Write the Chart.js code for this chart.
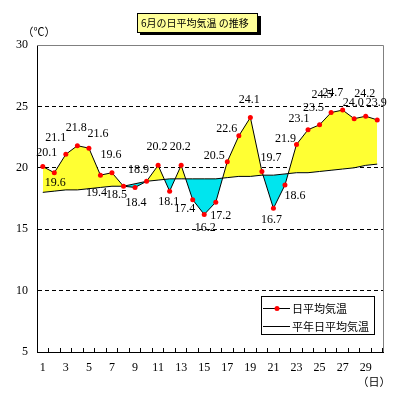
<!DOCTYPE html>
<html>
<head>
<meta charset="utf-8">
<script src="https://cdn.jsdelivr.net/npm/chart.js@4/dist/chart.umd.min.js"></script>
<style>
  html, body { margin: 0; padding: 0; background: #fff; }
  canvas { display: block; }
</style>
</head>
<body>
<canvas id="chart" width="399" height="400"></canvas>
<script>
// ---- Data ----
const days = ['1','2','3','4','5','6','7','8','9','10','11','12','13','14','15',
  '16','17','18','19','20','21','22','23','24','25','26','27','28','29','30'];
const dailyMean = [20.1, 19.6, 21.1, 21.8, 21.6, 19.4, 19.6, 18.5, 18.4, 18.9,
  20.2, 18.1, 20.2, 17.4, 16.2, 17.2, 20.5, 22.6, 24.1, 19.7,
  16.7, 18.6, 21.9, 23.1, 23.5, 24.5, 24.7, 24.0, 24.2, 23.9];
const normalMean = [18.0, 18.1, 18.2, 18.2, 18.3, 18.4, 18.5, 18.5, 18.7, 18.9,
  19.0, 19.1, 19.1, 19.1, 19.1, 19.1, 19.2, 19.3, 19.3, 19.4,
  19.4, 19.5, 19.6, 19.6, 19.7, 19.8, 19.9, 20.0, 20.2, 20.3];
const yTicks = [5, 10, 15, 20, 25, 30];
const seriesNames = ['日平均気温', '平年日平均気温'];
const titleText = '6月の日平均気温 の推移';

// where each value label sits relative to its point (dx, dy in px)
const labelOffsets = [
  [4,-14],[1,10],[-10,-16],[-1,-18],[9,-14],[-4,18],[-1,-18],[-7,9],[1,15],[-8,-11],
  [-1,-19],[-1,11],[-1,-19],[-8,9],[1,13],[5,14],[-13,-6],[-12,-7],[-1,-18],[9,-14],
  [-2,12],[10,11],[-11,-6],[-9,-11],[-6,-17],[-9,-18],[-10,-17],[-1,-16],[-1,-22],[-1,-17]
];

const numFont = "'Liberation Serif', 'DejaVu Serif', serif";
const jpFont = "'Noto Sans CJK JP', sans-serif";

// ---- Extras: borders, title box, legend, value labels ----
const decor = {
  id: 'decor',
  afterDraw(chart) {
    const { ctx, chartArea: a } = chart;
    ctx.save();

    // gray top/right frame
    ctx.strokeStyle = '#808080';
    ctx.lineWidth = 1;
    ctx.beginPath();
    ctx.moveTo(a.left, a.top + 0.5);
    ctx.lineTo(a.right + 0.5, a.top + 0.5);
    ctx.lineTo(a.right + 0.5, a.bottom);
    ctx.stroke();

    // value labels
    const meta = chart.getDatasetMeta(0);
    ctx.fillStyle = '#000';
    ctx.font = '12px ' + numFont;
    ctx.textAlign = 'center';
    ctx.textBaseline = 'middle';
    meta.data.forEach((pt, i) => {
      const [dx, dy] = labelOffsets[i];
      ctx.fillText(dailyMean[i].toFixed(1), pt.x + dx, pt.y + dy);
    });

    // title box with shadow
    ctx.fillStyle = '#000';
    ctx.fillRect(140, 16, 121, 19);
    ctx.fillStyle = '#FFFF99';
    ctx.fillRect(137.5, 13.5, 120, 19);
    ctx.strokeStyle = '#000';
    ctx.strokeRect(137.5, 13.5, 120, 19);
    ctx.fillStyle = '#000';
    ctx.font = '10px ' + jpFont;
    ctx.textAlign = 'left';
    ctx.fillText(titleText, 141, 23.5, 112);

    // axis unit labels
    ctx.font = '11px ' + jpFont;
    ctx.textAlign = 'center';
    ctx.fillText('（℃）', 39, 32);
    ctx.fillText('（日）', 374, 382);

    // legend
    const lx = 261.5, ly = 296.5, lw = 113, lh = 38;
    ctx.fillStyle = '#fff';
    ctx.fillRect(lx, ly, lw, lh);
    ctx.strokeStyle = '#000';
    ctx.strokeRect(lx, ly, lw, lh);
    const rows = [308, 326];
    rows.forEach((ry, i) => {
      ctx.beginPath();
      ctx.moveTo(263, ry + 0.5);
      ctx.lineTo(290, ry + 0.5);
      ctx.stroke();
      if (i === 0) {
        ctx.fillStyle = '#FF0000';
        ctx.beginPath();
        ctx.arc(277, ry + 0.5, 2.5, 0, Math.PI * 2);
        ctx.fill();
      }
      ctx.fillStyle = '#000';
      ctx.font = '11px ' + jpFont;
      ctx.textAlign = 'left';
      ctx.fillText(seriesNames[i], 292, ry + 1);
    });

    ctx.restore();
  }
};

new Chart(document.getElementById('chart'), {
  type: 'line',
  data: {
    labels: days,
    datasets: [
      {
        label: seriesNames[0],
        data: dailyMean,
        borderColor: '#000',
        borderWidth: 1,
        tension: 0,
        pointStyle: 'circle',
        pointRadius: 2.5,
        pointBorderWidth: 0,
        pointBackgroundColor: '#FF0000',
        fill: { target: 1, above: '#FFFF33', below: '#00E5EE' }
      },
      {
        label: seriesNames[1],
        data: normalMean,
        borderColor: '#000',
        borderWidth: 1,
        tension: 0,
        pointRadius: 0,
        fill: false
      }
    ]
  },
  options: {
    responsive: false,
    animation: false,
    layout: { padding: { top: 45, right: 16, left: 0, bottom: 0 } },
    plugins: {
      legend: { display: false },
      tooltip: { enabled: false },
      filler: { drawTime: 'beforeDatasetsDraw' }
    },
    scales: {
      x: {
        type: 'category',
        offset: true,
        afterFit: s => { s.height = 48; },
        grid: { offset: true, drawOnChartArea: false, drawTicks: true, tickLength: -4, color: '#000' },
        border: { color: '#000', width: 1 },
        ticks: {
          autoSkip: false, maxRotation: 0, padding: 13, color: '#000',
          font: { family: numFont, size: 12 },
          callback: (v, i) => (i % 2 === 0 ? days[i] : '')
        }
      },
      y: {
        min: yTicks[0],
        max: yTicks[yTicks.length - 1],
        afterFit: s => { s.width = 37; },
        afterBuildTicks: s => { s.ticks = yTicks.map(v => ({ value: v })); },
        grid: {
          drawTicks: false,
          color: c => (c.tick && c.tick.value > 5 && c.tick.value < 30 ? '#000' : 'rgba(0,0,0,0)')
        },
        border: { color: '#000', width: 1, dash: [4, 3] },
        ticks: { padding: 9, color: '#000', font: { family: numFont, size: 12 } }
      }
    }
  },
  plugins: [decor]
});
</script>
</body>
</html>
